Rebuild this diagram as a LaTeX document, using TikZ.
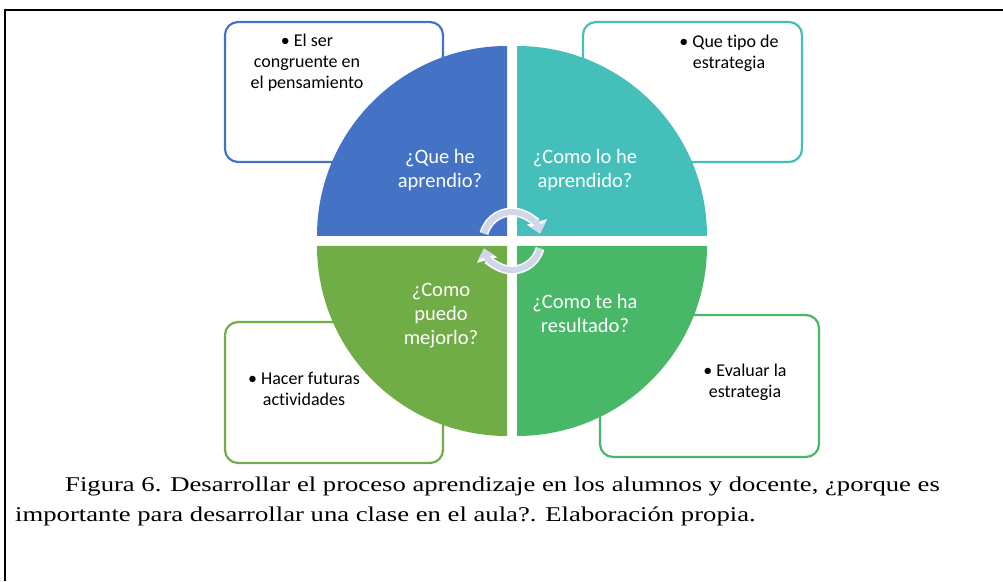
\documentclass[tikz,border=0pt]{standalone}
\usepackage{fontspec}
\usetikzlibrary{arrows.meta}
\newfontfamily\boxfont{Carlito}[Ligatures={NoCommon}]
\newfontfamily\capfont{Liberation Serif}[FakeStretch=1.27]
\definecolor{qblue}{HTML}{4472C4}
\definecolor{qteal}{HTML}{45BFB9}
\definecolor{qgreen}{HTML}{48B767}
\definecolor{qolive}{HTML}{70AD47}
\definecolor{cyc}{HTML}{D2D6EA}

\begin{document}
\begin{tikzpicture}[x=1pt,y=1pt,
  box/.style={line width=2.2pt, rounded corners=13pt, fill=white, draw=#1},
  boxtext/.style={font=\boxfont\fontsize{18}{21}\selectfont, align=center, inner sep=0pt},
  qtext/.style={font=\boxfont\fontsize{20.5}{24}\selectfont, align=center, text=white, inner sep=0pt},
  captext/.style={font=\capfont\fontsize{21}{30}\selectfont, inner sep=0pt, anchor=base west}]
\useasboundingbox (0,0) rectangle (1003,581);
\draw[line width=1.6pt] (5,0) -- (5,571) -- (1003,571);
% boxes behind the circle
\path[box=qblue]  (225,419) rectangle (443,559);
\path[box=qteal]  (583,419) rectangle (802,559);
\path[box=qgreen] (600,124) rectangle (819,266);
\path[box=qolive] (225,118) rectangle (443,259);
\node[boxtext] (learnt) at (307,518) {• El ser\\congruente en\\el pensamiento};
\node[boxtext] (kind) at (729,528) {• Que tipo de\\estrategia};
\node[boxtext] (judge) at (745,199) {• Evaluar la\\estrategia};
\node[boxtext] (future) at (304,192) {• Hacer futuras\\actividades};
% quarters
\fill[qblue]  (507,345) -- ++(-190,0) arc[start angle=180, end angle=90, radius=190] -- cycle;
\fill[qteal]  (517,345) -- ++(0,190) arc[start angle=90, end angle=0, radius=190] -- cycle;
\fill[qgreen] (517,335) -- ++(190,0) arc[start angle=0, end angle=-90, radius=190] -- cycle;
\fill[qolive] (507,335) -- ++(0,-190) arc[start angle=270, end angle=180, radius=190] -- cycle;
\node[qtext] (what) at (440,411) {¿Que he\\aprendio?};
\node[qtext] (how) at (585,411) {¿Como lo he\\aprendido?};
\node[qtext] (result) at (585,268) {¿Como te ha\\resultado?};
\node[qtext] (better) at (441,265) {¿Como\\puedo\\mejorlo?};
% cycle arrows
\coordinate (mid) at (512,340);
\draw[line width=9pt, white, -{Triangle[width=20pt,length=12pt]}] (mid) ++(165:29) arc[start angle=165, end angle=15, radius=29];
\draw[line width=6pt, cyc, -{Triangle[width=16pt,length=9pt]}] (mid) ++(165:29) arc[start angle=165, end angle=15, radius=29];
\draw[line width=9pt, white, -{Triangle[width=20pt,length=12pt]}] (mid) ++(-15:29) arc[start angle=-15, end angle=-165, radius=29];
\draw[line width=6pt, cyc, -{Triangle[width=16pt,length=9pt]}] (mid) ++(-15:29) arc[start angle=-15, end angle=-165, radius=29];
% caption
\node[captext] (cap1) at (65,90) {Figura 6. Desarrollar el proceso aprendizaje en los alumnos y docente, ¿porque es};
\node[captext] (cap2) at (15,60) {importante para desarrollar una clase en el aula?. Elaboración propia.};
\end{tikzpicture}
\end{document}
